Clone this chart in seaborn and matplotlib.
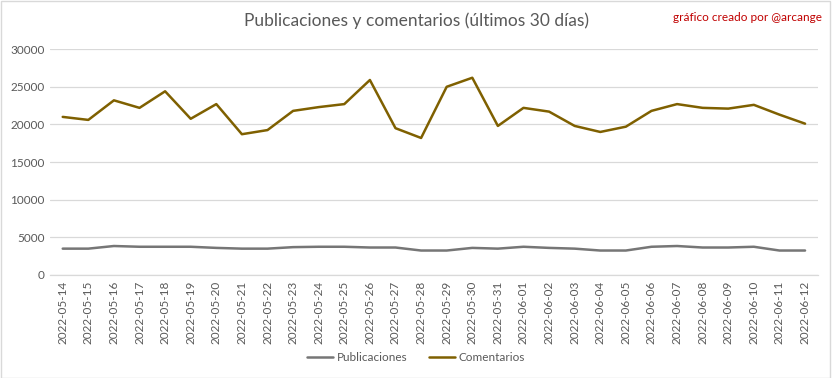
import matplotlib
matplotlib.use("Agg")
import matplotlib.pyplot as plt
import seaborn as sns
import pandas as pd

fechas = ["2022-05-14", "2022-05-15", "2022-05-16", "2022-05-17", "2022-05-18", "2022-05-19",
          "2022-05-20", "2022-05-21", "2022-05-22", "2022-05-23", "2022-05-24", "2022-05-25",
          "2022-05-26", "2022-05-27", "2022-05-28", "2022-05-29", "2022-05-30", "2022-05-31",
          "2022-06-01", "2022-06-02", "2022-06-03", "2022-06-04", "2022-06-05", "2022-06-06",
          "2022-06-07", "2022-06-08", "2022-06-09", "2022-06-10", "2022-06-11", "2022-06-12"]
publicaciones = [3500, 3500, 3850, 3750, 3750, 3750, 3600, 3500, 3500, 3700, 3750, 3750,
                 3650, 3650, 3250, 3250, 3600, 3500, 3750, 3600, 3500, 3250, 3250, 3750,
                 3850, 3650, 3650, 3750, 3250, 3250]
comentarios = [21000, 20600, 23200, 22200, 24400, 20750, 22700, 18700, 19250, 21800, 22300, 22700,
               25900, 19500, 18200, 25000, 26200, 19800, 22200, 21700, 19800, 19000, 19700, 21800,
               22700, 22200, 22100, 22600, 21300, 20100]
yticks = [0, 5000, 10000, 15000, 20000, 25000, 30000]

sns.set_theme(style="white")
plt.rcParams['font.family'] = ['Lato', 'DejaVu Sans']

n = len(fechas)
df = pd.DataFrame({
    "x": list(range(n)) * 2,
    "valor": publicaciones + comentarios,
    "serie": ["Publicaciones"] * n + ["Comentarios"] * n,
})

fig = plt.figure(figsize=(8.32, 3.78), dpi=100)
ax = fig.add_axes([0.060, 0.2725, 0.923, 0.5975])
sns.lineplot(data=df, x="x", y="valor", hue="serie",
             palette={"Publicaciones": "#767676", "Comentarios": "#7F6000"},
             linewidth=1.8, ax=ax, legend=False)

ax.set_xlim(-0.5, n - 0.5)
ax.set_ylim(0, 30000)
ax.set_yticks(yticks)
ax.set_yticklabels([str(v) for v in yticks], fontsize=8.5, color="#595959")
ax.set_xticks(range(n))
ax.set_xticklabels(fechas, rotation=90, fontsize=8.5, color="#595959")
ax.tick_params(axis="both", length=0, pad=4)
ax.set_xlabel("")
ax.set_ylabel("")
ax.grid(axis="y", color="#D9D9D9", linewidth=0.9)
for s in ["top", "right", "left"]:
    ax.spines[s].set_visible(False)
ax.spines["bottom"].set_color("#D9D9D9")
ax.spines["bottom"].set_linewidth(0.9)

fig.text(0.5, 0.945, "Publicaciones y comentarios (últimos 30 días)", ha="center", va="center",
         fontsize=12.5, color="#595959")
fig.text(0.988, 0.955, "gráfico creado por @arcange", ha="right", va="center",
         fontsize=8.5, color="#C00000")

from matplotlib.lines import Line2D
handles = [Line2D([0], [0], color="#767676", lw=1.8), Line2D([0], [0], color="#7F6000", lw=1.8)]
fig.legend(handles, ["Publicaciones", "Comentarios"], loc="center", bbox_to_anchor=(0.5, 0.055),
           ncol=2, frameon=False, fontsize=8.5, labelcolor="#595959", handlelength=2.2,
           handletextpad=0.3, columnspacing=1.8)

border = plt.Rectangle((0.001, 0.001), 0.997, 0.997, transform=fig.transFigure, fill=False,
                       edgecolor="#D9D9D9", linewidth=1)
fig.patches.append(border)

fig.savefig("out.png", dpi=100, facecolor="white")
